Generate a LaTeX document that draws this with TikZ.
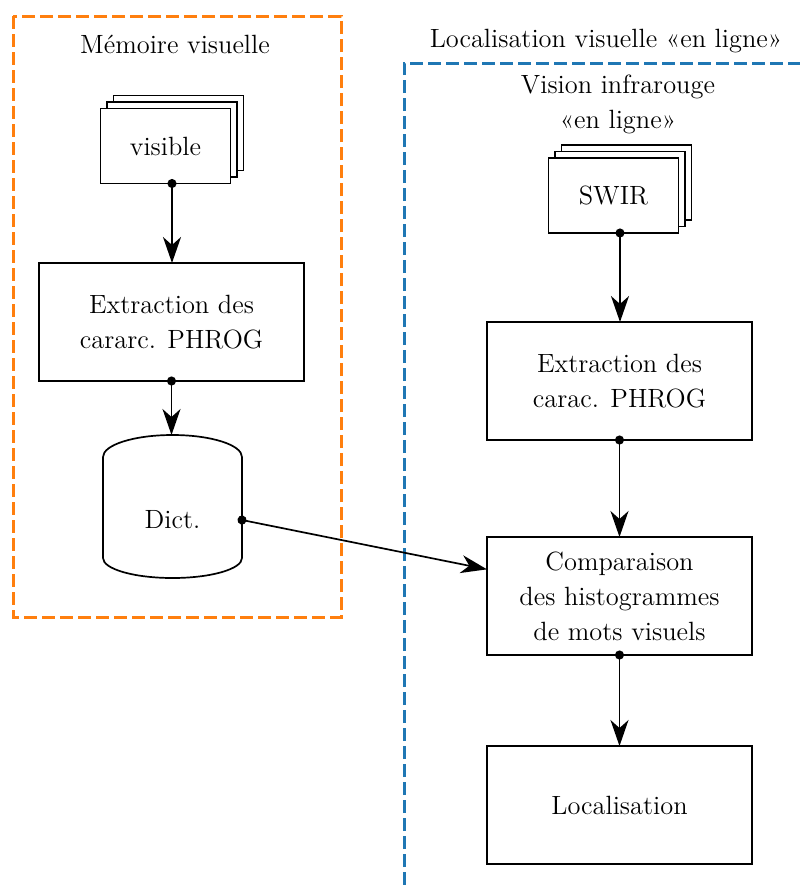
\documentclass[tikz,border=0pt]{standalone}
\usepackage{fontspec}
\usetikzlibrary{arrows.meta,calc,backgrounds}
\definecolor{tabor}{HTML}{FF7F0E}
\definecolor{tabbl}{HTML}{1F77B4}
\begin{document}
\begin{tikzpicture}[x=0.5pt,y=-0.5pt,
  font=\fontsize{13.2}{17.5}\selectfont,
  box/.style={draw,line width=0.85pt,minimum width=132.5pt,minimum height=59pt,align=center,inner sep=0pt,outer sep=0pt},
  docbox/.style={draw,line width=0.85pt,fill=white,minimum width=65pt,minimum height=37.5pt,inner sep=0pt,outer sep=0pt},
  docline/.style={draw,line width=0.85pt,fill=white},
  conn/.style={line width=0.85pt,shorten <=-2.25pt,{Circle[length=4.5pt]}-{Stealth[length=13pt,width=9pt,inset=4pt]}},
  grp/.style={line width=1.5pt,dash pattern=on 6.5pt off 2.5pt},
  lbl/.style={inner sep=0pt,align=center}]
\useasboundingbox (0,0) rectangle (800,885);

% groups
\draw[grp,tabor] (13,16) rectangle (341,617);
\draw[grp,tabbl] (404,885) -- (404,63) -- (800,63);
\node[lbl] (tmem) at (175,44) {Mémoire visuelle};
\node[lbl] (tloc) at (606,41) {Localisation visuelle «en ligne»};
\node[lbl] (tvis) at (618,104) {Vision infrarouge\\«en ligne»};

% left column
\node[docbox] (vis) at (165.5,146) {visible};
\begin{scope}[on background layer]
\draw[docline] ($(vis.south west)+(13,-13)$) rectangle ($(vis.north east)+(13,-13)$);
\draw[docline] ($(vis.south west)+(6.5,-6.5)$) rectangle ($(vis.north east)+(6.5,-6.5)$);
\end{scope}
\coordinate (visb) at ($(vis.south)+(6.5,0)$);

\node[box] (ext1) at (171.5,322) {Extraction des\\cararc. PHROG};

\node[lbl,minimum width=69.5pt,outer sep=0pt] (dict) at (172.5,520) {Dict.};
\coordinate (dtop) at (172.5,435);
\draw[line width=0.85pt] (103,457) arc[start angle=180,end angle=360,x radius=69.5,y radius=22]
  -- (242,558) arc[start angle=0,end angle=180,x radius=69.5,y radius=20] -- cycle;

% right column
\node[docbox] (swir) at (613.5,195.5) {SWIR};
\begin{scope}[on background layer]
\draw[docline] ($(swir.south west)+(13,-13)$) rectangle ($(swir.north east)+(13,-13)$);
\draw[docline] ($(swir.south west)+(6.5,-6.5)$) rectangle ($(swir.north east)+(6.5,-6.5)$);
\end{scope}
\coordinate (swirb) at ($(swir.south)+(6.5,0)$);

\node[box] (ext2) at (619.5,381) {Extraction des\\carac. PHROG};
\node[box] (comp) at (619.5,596) {Comparaison\\des histogrammes\\de mots visuels};
\node[box] (loc) at (619.5,805) {Localisation};

% connectors
\draw[conn] (visb) -- (visb |- ext1.north);
\draw[conn] (ext1.south) -- (ext1.south |- dtop);
\draw[conn] (dict.east) -- (comp);
\draw[conn] (swirb) -- (swirb |- ext2.north);
\draw[conn] (ext2.south) -- (comp.north);
\draw[conn] (comp.south) -- (loc.north);
\end{tikzpicture}
\end{document}
